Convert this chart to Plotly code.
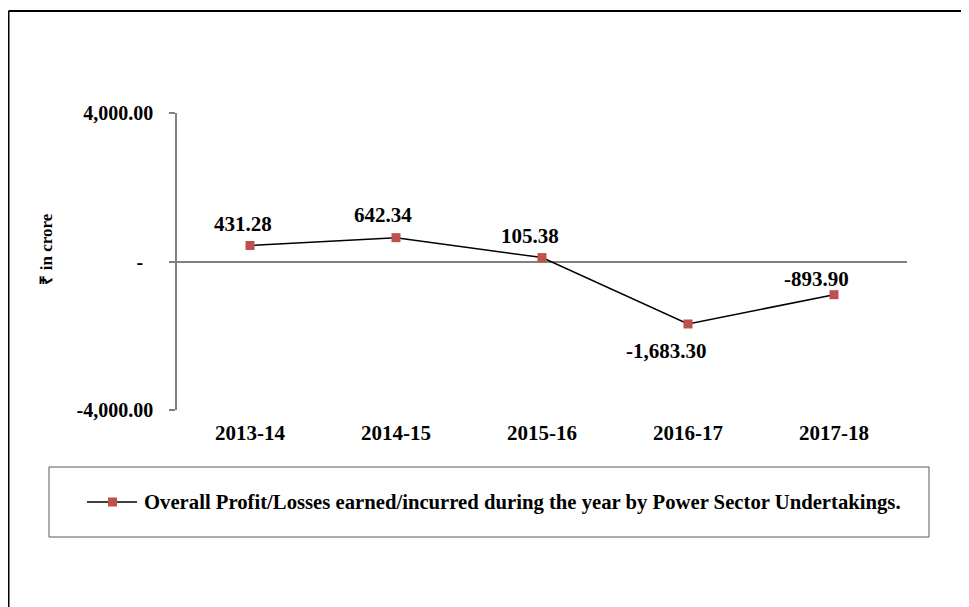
import plotly.graph_objects as go

categories = ["2013-14", "2014-15", "2015-16", "2016-17", "2017-18"]
values = [431.28, 642.34, 105.38, -1683.30, -893.90]
value_labels = ["431.28", "642.34", "105.38", "-1,683.30", "-893.90"]
series_name = "Overall Profit/Losses earned/incurred during the year by Power Sector Undertakings."
y_tickvals = [-4000, 0, 4000]
y_ticktext = ["-4,000.00", "-\u00a0\u00a0", "4,000.00"]

# label placement offsets (pixels) relative to each marker
label_dx = [-7.5, -13, -12, -22, -18]
label_dy = [21, 23, 22, -27, 16]

OFF = 8  # page body margin
W, H = 969 - OFF, 607 - OFF
L, R, T, B = 177 - OFF, 907 - OFF, 113 - OFF, 410 - OFF
FONT = "Liberation Serif, Times New Roman, serif"
LINE_COLOR = "black"
MARKER_COLOR = "#c0504d"

def px_x(px):
    return (px - OFF - L) / (R - L)

def px_y(py):
    return (B - (py - OFF)) / (B - T)

fig = go.Figure()
fig.add_trace(go.Scatter(
    x=categories, y=values, mode="lines+markers", name=series_name,
    line=dict(color=LINE_COLOR, width=1.5),
    marker=dict(symbol="square", size=9, color=MARKER_COLOR),
    showlegend=False,
))

for c, v, t, dx, dy in zip(categories, values, value_labels, label_dx, label_dy):
    fig.add_annotation(x=c, y=v, text=t, showarrow=False,
                       xshift=dx, yshift=dy,
                       font=dict(family=FONT, size=21, color="black", weight="bold"))

# y-axis title
fig.add_annotation(xref="paper", yref="paper", x=px_x(45.5), y=px_y(249),
                   xanchor="center", yanchor="middle",
                   text="₹ in crore", textangle=-90, showarrow=False,
                   font=dict(family=FONT, size=17, color="black", weight="bold"))

# outer border (top and left visible)
fig.add_shape(type="line", xref="paper", yref="paper",
              x0=px_x(8.5), x1=px_x(1000), y0=px_y(11), y1=px_y(11),
              line=dict(color="black", width=2))
fig.add_shape(type="line", xref="paper", yref="paper",
              x0=px_x(8.5), x1=px_x(8.5), y0=px_y(11), y1=px_y(700),
              line=dict(color="black", width=2))
# legend box
fig.add_shape(type="rect", xref="paper", yref="paper",
              x0=px_x(49), x1=px_x(929), y0=px_y(467), y1=px_y(537),
              line=dict(color="#595959", width=1))
# legend key
fig.add_shape(type="line", xref="paper", yref="paper",
              x0=px_x(87), x1=px_x(137), y0=px_y(502), y1=px_y(502),
              line=dict(color=LINE_COLOR, width=1.5))
fig.add_shape(type="rect", xref="paper", yref="paper",
              x0=px_x(108), x1=px_x(117), y0=px_y(497.5), y1=px_y(506.5),
              line=dict(width=0), fillcolor=MARKER_COLOR)
fig.add_annotation(xref="paper", yref="paper", x=px_x(142), y=px_y(502),
                   xanchor="left", yanchor="middle", text=series_name, showarrow=False,
                   font=dict(family=FONT, size=20.7, color="black", weight="bold"))

fig.update_layout(
    width=W, height=H,
    margin=dict(l=L, r=W - R, t=T, b=H - B, pad=0),
    paper_bgcolor="white", plot_bgcolor="white",
    font=dict(family=FONT, size=20, color="black", weight="bold"),
    showlegend=False,
    xaxis=dict(type="category", range=[-0.5, 4.5], showline=False, showgrid=False,
               zeroline=False, ticks="", ticklabelstandoff=8,
               tickfont=dict(family=FONT, size=21, weight="bold")),
    yaxis=dict(range=[-4000, 4000], tickvals=y_tickvals, ticktext=y_ticktext,
               showline=True, linecolor="#808080", linewidth=1.5,
               ticks="outside", ticklen=6, tickcolor="#808080", tickwidth=1.5,
               showgrid=False, zeroline=True, zerolinecolor="#808080", zerolinewidth=1.5,
               ticklabelstandoff=12,
               tickfont=dict(family=FONT, size=20, weight="bold")),
)

fig.write_html("out.html")
